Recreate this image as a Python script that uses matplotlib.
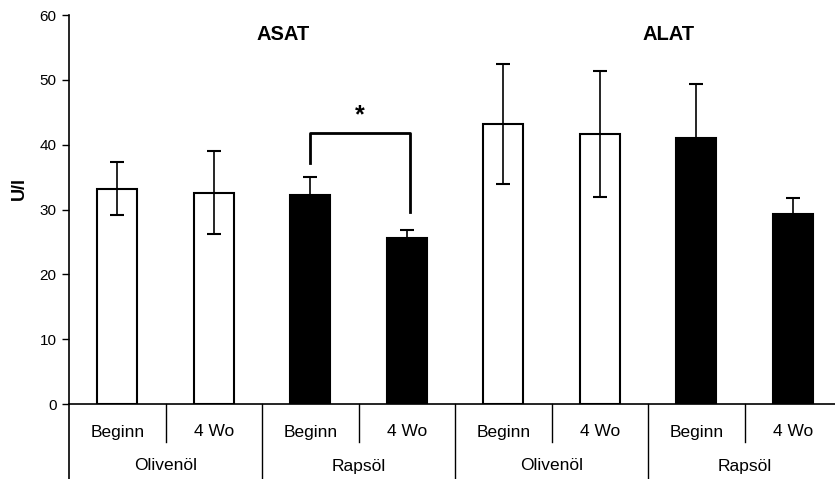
import matplotlib
matplotlib.use("Agg")
import matplotlib.pyplot as plt
import matplotlib.transforms as mtransforms

plt.rcParams['font.family'] = ['Liberation Sans', 'DejaVu Sans']

sub_labels = ["Beginn", "4 Wo", "Beginn", "4 Wo", "Beginn", "4 Wo", "Beginn", "4 Wo"]
group_labels = ["Olivenöl", "Rapsöl", "Olivenöl", "Rapsöl"]
panel_titles = ["ASAT", "ALAT"]
means = [33.2, 32.6, 32.3, 25.6, 43.2, 41.7, 41.1, 29.3]
errors = [4.1, 6.4, 2.7, 1.2, 9.3, 9.7, 8.3, 2.5]
fills = ["white", "white", "black", "black", "white", "white", "black", "black"]
yticks = [0, 10, 20, 30, 40, 50, 60]
ylabel = "U/l"
sig_pair = (2, 3)
sig_text = "*"

W, H = 835, 479
fig = plt.figure(figsize=(W / 100, H / 100), dpi=100)
x0, y0, y1 = 69, 404, 15
catw = 96.5
ax = fig.add_axes([x0 / W, (H - y0) / H, (W - x0) / W, (y0 - y1) / H])
ax.set_xlim(0, (W - x0) / catw)
ax.set_ylim(0, 60)

xs = [i + 0.5 for i in range(len(means))]
bw = 40 / catw
ax.bar(xs, means, width=bw, color=fills, edgecolor="black", linewidth=1.5, zorder=2)
ax.errorbar(xs, means, yerr=errors, fmt="none", ecolor="black", elinewidth=1.2,
            capsize=5, capthick=1.5, zorder=3)

for s in ["top", "right"]:
    ax.spines[s].set_visible(False)
ax.spines["left"].set_linewidth(1.2)
ax.spines["bottom"].set_linewidth(1.2)
ax.set_yticks(yticks)
ax.set_yticklabels([str(t) for t in yticks], fontsize=11)
ax.tick_params(axis="y", direction="out", length=5, width=1, pad=4)
ax.set_xticks([])
fig.text(19 / W, 1 - 189 / H, ylabel, rotation=90, ha="center", va="center",
         fontsize=13, fontweight="bold")

trans = mtransforms.blended_transform_factory(ax.transData, ax.transAxes)
ph = (y0 - y1)
bottom = -(H - y0) / ph
short = -38 / ph
# left axis extension
ax.plot([0, 0], [0, bottom], transform=trans, color="black", lw=1.2, clip_on=False)
for i in range(1, len(means)):
    yb = bottom if i % 2 == 0 else short
    ax.plot([i, i], [0, yb], transform=trans, color="black", lw=1, clip_on=False)
for i, lab in enumerate(sub_labels):
    ax.text(xs[i], -28 / ph, lab, transform=trans, ha="center", va="center", fontsize=12.5)
for g, lab in enumerate(group_labels):
    ax.text(2 * g + 1, -62 / ph, lab, transform=trans, ha="center", va="center", fontsize=12.5)

ax.text((283 - x0) / catw, 57.0, panel_titles[0], ha="center", va="center",
        fontsize=14.5, fontweight="bold")
ax.text((669 - x0) / catw, 57.0, panel_titles[1], ha="center", va="center",
        fontsize=14.5, fontweight="bold")

# significance bracket
a, b = sig_pair
ya = means[a] + errors[a] + 2.2
yb2 = means[b] + errors[b] + 2.8
ytop = 41.8
xa, xb = xs[a], xs[b] + 0.03
ax.plot([xa, xa, xb, xb], [ya, ytop, ytop, yb2], color="black", lw=2, zorder=4)
ax.text((xa + xb) / 2, 44.6, sig_text, ha="center", va="center", fontsize=18, fontweight="bold")

fig.savefig("out.png", dpi=100)
